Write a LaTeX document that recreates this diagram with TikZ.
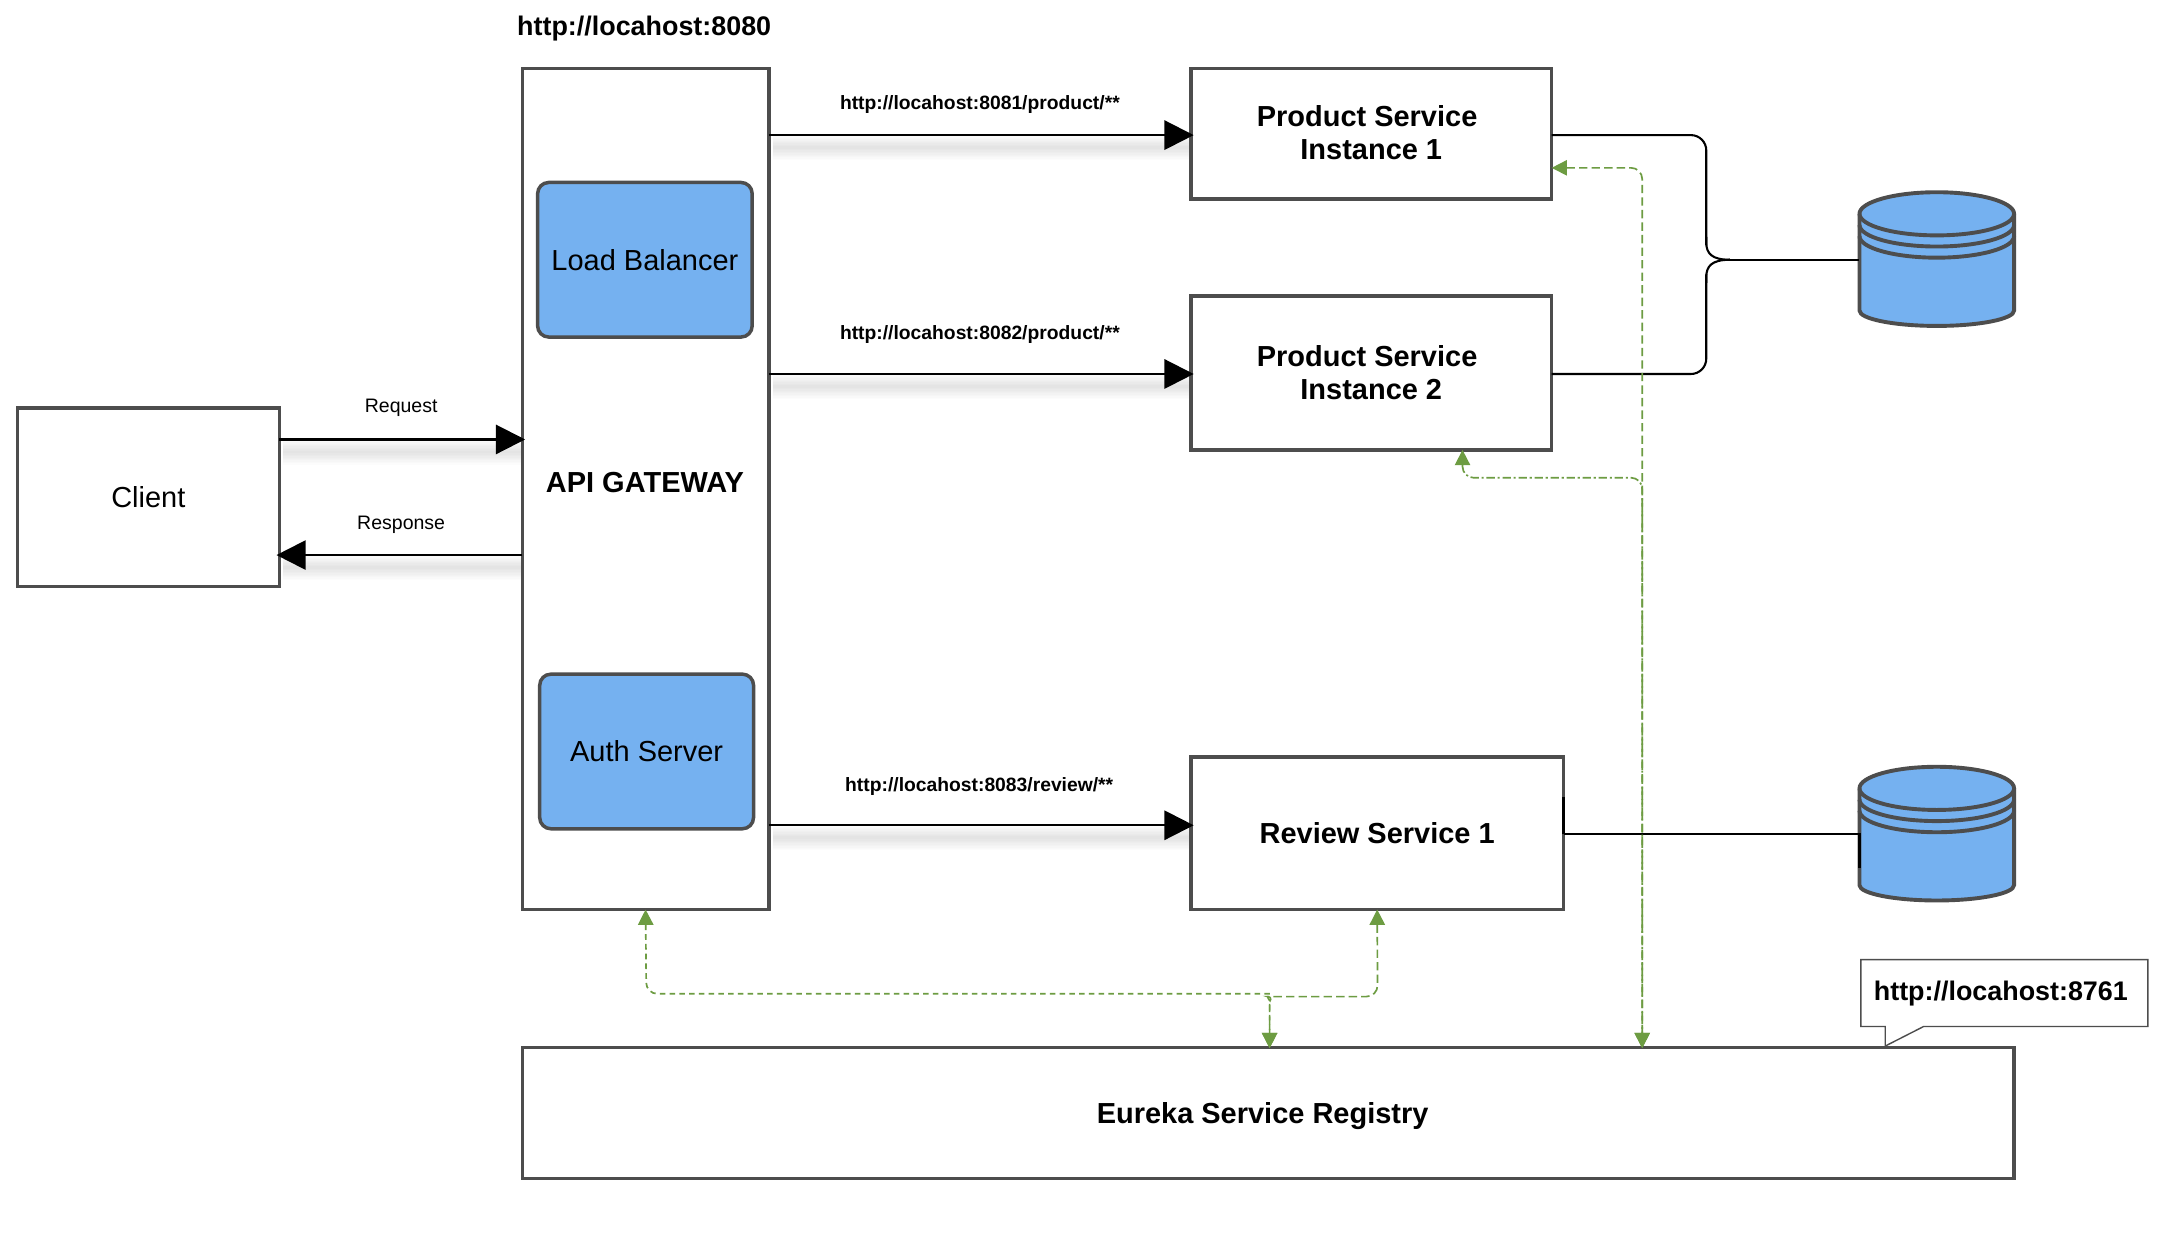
\documentclass[tikz,border=0pt]{standalone}
\usepackage{fontspec}
\setmainfont{Liberation Sans}
\usetikzlibrary{arrows.meta,calc}
\pgfdeclarelayer{shadowlayer}
\pgfsetlayers{shadowlayer,main}
\definecolor{bd}{HTML}{4D4D4D}
\definecolor{bluefill}{HTML}{75B1F0}
\definecolor{grn}{HTML}{6D9C42}
\tikzset{
  box/.style={draw=bd,line width=2.5pt,fill=white,inner sep=0pt,outer sep=0pt,align=center,font=\fontsize{20.8}{23.5}\selectfont\bfseries},
  plainbox/.style={box,font=\fontsize{20.8}{23.5}\selectfont},
  bluebox/.style={draw=bd,line width=2.5pt,fill=bluefill,rounded corners=8pt,inner sep=0pt,outer sep=0pt,font=\fontsize{20.8}{24}\selectfont},
  urllabel/.style={font=\fontsize{13.85}{16}\selectfont\bfseries,inner sep=0pt},
  small/.style={font=\fontsize{14}{16}\selectfont,inner sep=0pt},
  bigurl/.style={font=\fontsize{19.3}{22}\selectfont\bfseries,inner sep=0pt},
  bigbold/.style={font=\fontsize{20.8}{24}\selectfont\bfseries,inner sep=0pt},
  conn/.style={draw=black,line width=1.6pt,-{Triangle[length=21pt,width=21pt]},shorten >=-2pt},
  link/.style={draw=black,line width=1.5pt},
  reg/.style={draw=grn,line width=1.2pt,{Triangle[length=11pt,width=11pt,fill=grn]}-{Triangle[length=11pt,width=11pt,fill=grn]},rounded corners=8pt},
  dbline/.style={draw=bd,line width=2.8pt},
  ghost/.style={draw=none,inner sep=0pt,outer sep=0pt}
}
\newcommand{\shadowconn}[2]{%
  \begin{pgfonlayer}{shadowlayer}
    \foreach \w in {2,4,...,18}{
      \draw[black,opacity=.010,line width=\w pt,line cap=butt] ($#1+(3,9)$) -- ($#2+(3,9)$);
    }
  \end{pgfonlayer}
  \draw[conn] #1 -- #2;
}
\newcommand{\dbshape}[2]{%
  % #1 left x, #2 top y; width 111, height 96
  \path[fill=bluefill,dbline] (#1,#2+15.5) .. controls (#1,#2+7) and (#1+25,#2) .. (#1+55.5,#2)
    .. controls (#1+86,#2) and (#1+111,#2+7) .. (#1+111,#2+15.5)
    -- (#1+111,#2+85) .. controls (#1+111,#2+91) and (#1+86,#2+96) .. (#1+55.5,#2+96)
    .. controls (#1+25,#2+96) and (#1,#2+91) .. (#1,#2+85) -- cycle;
  \foreach \d in {0,8,16}{
    \draw[dbline] (#1,#2+15.5+\d) .. controls (#1,#2+24+\d) and (#1+25,#2+31+\d) .. (#1+55.5,#2+31+\d)
      .. controls (#1+86,#2+31+\d) and (#1+111,#2+24+\d) .. (#1+111,#2+15.5+\d);
  }
}
\begin{document}
\begin{tikzpicture}[x=1pt,y=-1pt]
\useasboundingbox (0,0) rectangle (1568,898.8);
\begin{pgfonlayer}{shadowlayer}
  \fill[white] (0,0) rectangle (1568,898.8);
\end{pgfonlayer}

% boxes
\node[plainbox,minimum width=188pt,minimum height=128pt] (client) at (106.5,357) {Client};
\node[box,minimum width=177pt,minimum height=604pt] (gw) at (463.5,351) {};
\node[bluebox,minimum width=154pt,minimum height=111pt] (lb) at (463,186.5) {Load Balancer};
\node[bluebox,minimum width=153.5pt,minimum height=111pt] (auth) at (464.25,539.5) {Auth Server};
\node[bigbold] (gwlabel) at (463,346.3) {API GATEWAY};
\node[box,minimum width=259pt,minimum height=94pt] (p1) at (984.5,96) {\hspace*{-6pt}\raisebox{1.5pt}{Product Service}\\\raisebox{1.5pt}{Instance 1}};
\node[box,minimum width=259pt,minimum height=110.5pt] (p2) at (984.5,267.75) {\hspace*{-6pt}Product Service\\Instance 2};
\node[box,minimum width=267.5pt,minimum height=109.5pt] (rev) at (988.75,598.25) {Review Service 1};
\node[box,minimum width=1071pt,minimum height=94pt] (eureka) at (910.5,799) {\hspace*{-8pt}\raisebox{-7.5pt}[0pt][0pt]{Eureka Service Registry}};

% databases
\node[ghost,minimum width=111pt,minimum height=96pt] (db1) at (1390.5,186) {};
\node[ghost,minimum width=111pt,minimum height=96pt] (db2) at (1390.5,598.5) {};
\dbshape{1335}{138}
\dbshape{1335}{550.5}

% callout
\node[ghost,minimum width=206pt,minimum height=48pt] (cb) at (1439,713) {};
\coordinate (cbl) at (1353.5,737);
\coordinate (cbr) at (1381,737);
\coordinate (cbt) at (1353.5,751);
\draw[bd,line width=1pt,fill=white] (cb.north west) -- (cb.north east) -- (cb.south east) -- (cbr) -- (cbt) -- (cbl) -- (cb.south west) -- cycle;
\node[bigurl] (cbtext) at (1436.5,713.5) {http://locahost:8761};

% rows
\coordinate (yreq) at (0,315.5);
\coordinate (yres) at (0,398.5);
\coordinate (yp1) at (0,97);
\coordinate (yp2) at (0,268.5);
\coordinate (yrev) at (0,592.5);
\coordinate (yrevdb) at (0,599);
\coordinate (yjoin) at (0,186.5);

% black connectors
\shadowconn{(client.east |- yreq)}{(gw.west |- yreq)}
\shadowconn{(gw.west |- yres)}{(client.east |- yres)}
\shadowconn{(gw.east |- yp1)}{(p1.west |- yp1)}
\shadowconn{(gw.east |- yp2)}{(p2.west |- yp2)}
\shadowconn{(gw.east |- yrev)}{(rev.west |- yrev)}

% database links
\coordinate (bus) at (1225,0);
\coordinate (busend) at (1242,0);
\draw[link,rounded corners=11pt] (p1.east |- yp1) -- (bus |- yp1) -- (1225,176);
\draw[link] (1225,170) -- (1225,174) .. controls (1225,182) and (1229,186.5) .. (busend |- yjoin);
\draw[link,rounded corners=11pt] (p2.east |- yp2) -- (bus |- yp2) -- (1225,197);
\draw[link] (1225,203) -- (1225,199) .. controls (1225,191) and (1229,186.5) .. (busend |- yjoin);
\draw[link] (busend |- yjoin) -- (db1.west |- yjoin);
\draw[link] (rev.east |- yrevdb) -- (db2.west |- yrevdb) -- (1335,623);
\draw[link] (rev.east |- yrevdb) -- (1122.5,572);

% registry links
\coordinate (gwdrop) at (464,713.5);
\coordinate (revdrop) at (989,715.5);
\coordinate (eu) at (911.5,752.5);
\coordinate (eutop) at (911.5,726);
\coordinate (vert) at (1179,752.5);
\draw[reg,dash pattern=on 4pt off 3pt] (gw.south) -- (gwdrop) -- (904,713.5) .. controls (908,713.5) and (911.5,719) .. (eutop) -- (eu);
\draw[reg,dash pattern=on 6pt off 3pt] (rev.south) -- (revdrop) -- (918,715.5) .. controls (914,715.5) and (911.5,720) .. (eutop) -- (eu);
\draw[reg,dash pattern=on 6pt off 3pt] (p1.east |- 0,120.5) -- (1179,120.5) -- (vert);
\draw[reg,dash pattern=on 6pt off 2pt on 1.5pt off 2pt] (1050,323) -- (1050,343) -- (1179,343) -- (vert);

% labels
\node[bigurl] (top) at (462.5,20.5) {http://locahost:8080};
\node[small] (lreq) at (288,293) {Request};
\node[small] (lres) at (288,377) {Response};
\node[urllabel] (u1) at (703.5,75) {http://locahost:8081/product/**};
\node[urllabel] (u2) at (703.5,240.5) {http://locahost:8082/product/**};
\node[urllabel] (u3) at (703,564.5) {http://locahost:8083/review/**};
\end{tikzpicture}
\end{document}
